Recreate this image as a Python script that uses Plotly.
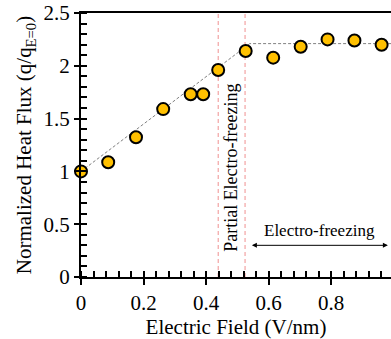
import plotly.graph_objects as go

# Data
field = [0.0, 0.087, 0.176, 0.263, 0.351, 0.391, 0.439, 0.527, 0.615, 0.703, 0.789, 0.875, 0.962]
heat_flux = [1.0, 1.086, 1.323, 1.59, 1.73, 1.73, 1.96, 2.14, 2.077, 2.18, 2.25, 2.24, 2.20]

trend_x = [0.0, 0.54, 1.0]
trend_y = [1.0, 2.21, 2.21]

transition_fields = [0.439, 0.525]

x_range = [0, 0.992]
y_range = [0, 2.5]

FONT = "Liberation Serif"

fig = go.Figure()

# dashed trend line
fig.add_trace(go.Scatter(x=trend_x, y=trend_y, mode="lines",
                         line=dict(color="#808080", width=1, dash="3px,2px"),
                         hoverinfo="skip", showlegend=False))

# vertical transition lines
for xv in transition_fields:
    fig.add_trace(go.Scatter(x=[xv, xv], y=y_range, mode="lines",
                             line=dict(color="#F09090", width=1, dash="4px,3px"),
                             hoverinfo="skip", showlegend=False))

# data points
fig.add_trace(go.Scatter(x=field, y=heat_flux, mode="markers", cliponaxis=False,
                         marker=dict(size=12, color="#FFC000",
                                     line=dict(color="black", width=2)),
                         showlegend=False))

# invisible trace for inner tick overlay axes
fig.add_trace(go.Scatter(x=[None], y=[None], xaxis="x2", yaxis="y2",
                         showlegend=False, hoverinfo="skip"))

fig.add_annotation(x=(transition_fields[0] + transition_fields[1]) / 2, y=1.03,
                   text="Partial Electro-freezing", textangle=-90, showarrow=False,
                   font=dict(family=FONT, size=18, color="black"))

fig.add_annotation(x=0.982, y=0.30, ax=0.542, ay=0.30, axref="x", ayref="y",
                   xref="x", yref="y", text="", showarrow=True,
                   arrowhead=2, arrowside="end+start", arrowsize=1, arrowwidth=1,
                   arrowcolor="black")
fig.add_annotation(x=0.762, y=0.44, text="Electro-freezing", showarrow=False,
                   font=dict(family=FONT, size=17, color="black"))

axis_common = dict(showgrid=False, zeroline=False)

fig.update_layout(
    width=391, height=339,
    margin=dict(l=81, r=0, t=13, b=62),
    paper_bgcolor="white", plot_bgcolor="white",
    font=dict(family=FONT, size=20, color="black"),
    xaxis=dict(range=x_range, dtick=0.2, tick0=0, ticks="outside", ticklen=6,
               tickwidth=2, tickcolor="black",
               showline=True, linecolor="black", linewidth=2, mirror=True,
               minor=dict(dtick=0.04, ticks="inside", ticklen=6, tickwidth=1.5,
                          tickcolor="black"),
               title=dict(text="Electric Field (V/nm)", standoff=2,
                          font=dict(family=FONT, size=21)),
               tickfont=dict(family=FONT, size=21), **axis_common),
    yaxis=dict(range=y_range, dtick=0.5, tick0=0, ticks="outside", ticklen=5,
               tickwidth=2, tickcolor="black",
               showline=True, linecolor="black", linewidth=2,
               minor=dict(dtick=0.1, ticks="inside", ticklen=6, tickwidth=1.5,
                          tickcolor="black"),
               title=dict(text="Normalized Heat Flux (q/q<sub>E=0</sub>)", standoff=6,
                          font=dict(family=FONT, size=21)),
               tickfont=dict(family=FONT, size=21), **axis_common),
    xaxis2=dict(range=x_range, overlaying="x", dtick=0.2, tick0=0, ticks="inside",
                ticklen=6, tickwidth=2, tickcolor="black", showticklabels=False,
                showline=False, anchor="y2", side="bottom", **axis_common),
    yaxis2=dict(range=y_range, overlaying="y", dtick=0.5, tick0=0, ticks="inside",
                ticklen=6, tickwidth=2, tickcolor="black", showticklabels=False,
                showline=False, anchor="x2", side="left", **axis_common),
)

fig.write_html("out.html")
